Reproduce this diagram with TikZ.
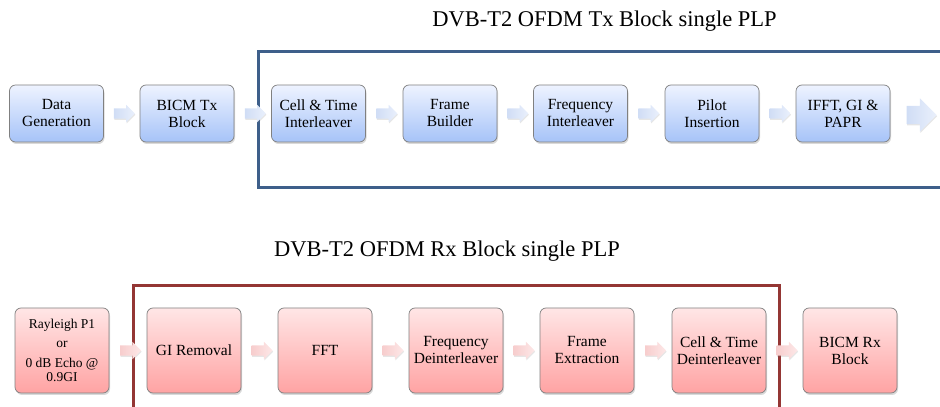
\documentclass[tikz,border=0pt]{standalone}
\usepackage{fontspec}
\setmainfont{Liberation Serif}
\usetikzlibrary{shapes.arrows,shadows}
\definecolor{txframe}{HTML}{3E5F8A}
\definecolor{rxframe}{HTML}{943634}
\definecolor{txtop}{HTML}{EEF3FF}
\definecolor{txbot}{HTML}{A6C3F8}
\definecolor{rxtop}{HTML}{FFE6E6}
\definecolor{rxbot}{HTML}{FFA3A3}
\definecolor{txarrA}{HTML}{EAF0FC}
\definecolor{txarrB}{HTML}{D0DDF5}
\definecolor{rxarrA}{HTML}{FDE8E8}
\definecolor{rxarrB}{HTML}{F7CDCD}
\begin{document}
\begin{tikzpicture}[x=1pt,y=1pt,
  box/.style={draw=black!50, line width=0.7pt, rounded corners=6pt,
    minimum width=94pt, inner sep=2pt, align=center,
    font=\fontsize{15.5}{17}\selectfont,
    drop shadow={opacity=0.3, shadow xshift=1pt, shadow yshift=-2pt}},
  txbox/.style={box, minimum height=57pt, top color=txtop, bottom color=txbot},
  rxbox/.style={box, minimum height=85pt, top color=rxtop, bottom color=rxbot},
  blockarr/.style={single arrow, draw=none, inner xsep=0pt, inner ysep=5pt,
    minimum height=21pt, minimum width=0pt, single arrow head extend=3.5pt,
    drop shadow={opacity=0.2, shadow xshift=0.5pt, shadow yshift=-1.2pt}},
  txarr/.style={blockarr, left color=txarrB, right color=txarrA},
  rxarr/.style={blockarr, left color=rxarrB, right color=rxarrA},
  frame/.style={line width=3pt},
  title/.style={anchor=base, font=\fontsize{22.5}{26}\selectfont}
]
\useasboundingbox (0,0) rectangle (940,407);

% titles
\node[title] (txtitle) at (604.5,380) {DVB-T2 OFDM Tx Block single PLP};
\node[title] (rxtitle) at (447,150) {DVB-T2 OFDM Rx Block single PLP};

% frames
\draw[frame, txframe] (940,355) -- (258,355) -- (258,219) -- (940,219);
\draw[frame, rxframe] (133,0) -- (133,121) -- (779,121) -- (779,0);

% Tx row
\node[txbox] (t1) at (56.5,293.5) {Data\\Generation};
\node[txbox] (t2) at (187,293.5) {BICM Tx\\Block};
\node[txbox] (t3) at (318.5,293.5) {Cell \& Time\\Interleaver};
\node[txbox] (t4) at (450,293.5) {Frame\\Builder};
\node[txbox] (t5) at (580.5,293.5) {Frequency\\Interleaver};
\node[txbox] (t6) at (712,293.5) {Pilot\\Insertion};
\node[txbox] (t7) at (843,293.5) {IFFT, GI \&\\PAPR};
\coordinate (tend) at (917,292);

\path (t1) -- node[txarr] {} (t2);
\path (t2) -- node[txarr] {} (t3);
\path (t3) -- node[txarr] {} (t4);
\path (t4) -- node[txarr] {} (t5);
\path (t5) -- node[txarr] {} (t6);
\path (t6) -- node[txarr] {} (t7);
\node[txarr, minimum height=30pt, inner ysep=9pt, single arrow head extend=7.5pt] (tarr) at (tend) {};

% Rx row
\node[rxbox, font=\fontsize{13.5}{14}\selectfont] (r1) at (62,56.5)
  {Rayleigh P1\\[5pt]or\\[6pt]0 dB Echo @\\0.9GI};
\node[rxbox] (r2) at (194,56.5) {GI Removal};
\node[rxbox] (r3) at (325,56.5) {FFT};
\node[rxbox] (r4) at (456,56.5) {Frequency\\Deinterleaver};
\node[rxbox] (r5) at (587,56.5) {Frame\\Extraction};
\node[rxbox] (r6) at (719,56.5) {Cell \& Time\\Deinterleaver};
\node[rxbox] (r7) at (850,56.5) {BICM Rx\\Block};

\path (r1) -- node[rxarr] {} (r2);
\path (r2) -- node[rxarr] {} (r3);
\path (r3) -- node[rxarr] {} (r4);
\path (r4) -- node[rxarr] {} (r5);
\path (r5) -- node[rxarr] {} (r6);
\path (r6) -- node[rxarr] {} (r7);
\end{tikzpicture}
\end{document}
